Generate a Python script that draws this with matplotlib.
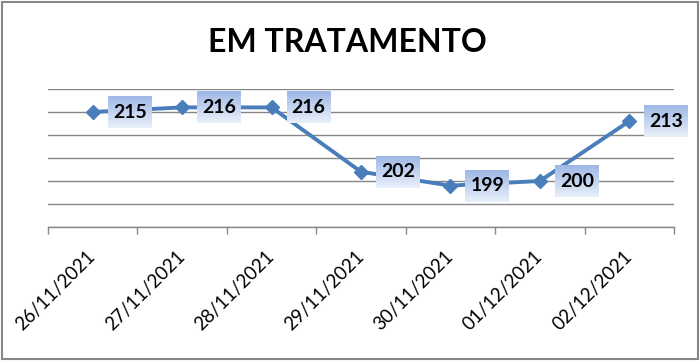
import matplotlib.pyplot as plt
import matplotlib.patches as mpatches
import numpy as np

dates = ["26/11/2021", "27/11/2021", "28/11/2021", "29/11/2021",
         "30/11/2021", "01/12/2021", "02/12/2021"]
values = [215, 216, 216, 202, 199, 200, 213]

W, H = 700, 361
blue = "#4a7ebb"
gray = "#868686"

plt.rcParams['font.family'] = ['Lato', 'DejaVu Sans']

fig = plt.figure(figsize=(W/100, H/100), dpi=100)
ax = fig.add_axes([48/W, 1 - 227/H, (674-48)/W, (227-89)/H])

x = np.arange(len(values))
ax.plot(x, values, color=blue, lw=2.8, marker='D', ms=7.5, mfc=blue, mec=blue, zorder=3)

ax.set_xlim(-0.5, len(values) - 0.5)
ax.set_ylim(190, 220)
ax.set_yticks(np.arange(190, 221, 5))
ax.yaxis.grid(True, color=gray, lw=1)
ax.set_axisbelow(True)
ax.tick_params(axis='y', left=False, labelleft=False)
for s in ['top', 'right', 'left']:
    ax.spines[s].set_visible(False)
ax.spines['bottom'].set_color(gray)
ax.spines['bottom'].set_linewidth(1)

ax.set_xticks(x)
ax.set_xticks(np.arange(-0.5, len(values)), minor=True)
ax.tick_params(axis='x', which='major', length=0, pad=19)
ax.tick_params(axis='x', which='minor', length=5, color=gray, width=1, direction='out')
ax.set_xticklabels(dates, rotation=45, ha='right', va='center',
                   rotation_mode='anchor', fontsize=13.5)

# gradient data-label boxes, placed in pixels to the right of each point
grad = np.linspace(0, 1, 32)[:, None, None]
top = np.array([0.62, 0.72, 0.90])
bot = np.array([0.91, 0.94, 0.98])
img = top * (1 - grad) + bot * grad
img = np.repeat(img, 2, axis=1)
inv = ax.transData.inverted()
for xi, v in zip(x, values):
    px, py = ax.transData.transform((xi, v))
    x0, y0 = inv.transform((px + 15, py - 16))
    x1, y1 = inv.transform((px + 59, py + 16))
    ax.imshow(img, extent=(x0, x1, y0, y1), aspect='auto', zorder=4,
              clip_on=False, interpolation='bilinear')
    ax.text((x0 + x1) / 2, (y0 + y1) / 2, str(v), ha='center', va='center',
            fontsize=14, fontweight='bold', zorder=5)
ax.set_xlim(-0.5, len(values) - 0.5)
ax.set_ylim(190, 220)

fig.text(347.5/W, 1 - 43/H, "EM TRATAMENTO", ha='center', va='center',
         fontsize=23, fontweight='bold')

fig.patches.append(mpatches.Rectangle((2/W, 2/H), (W-4)/W, (H-4)/H, fill=False,
                                      edgecolor="#878787", lw=1.5,
                                      transform=fig.transFigure))

fig.savefig("out.png", dpi=100)
